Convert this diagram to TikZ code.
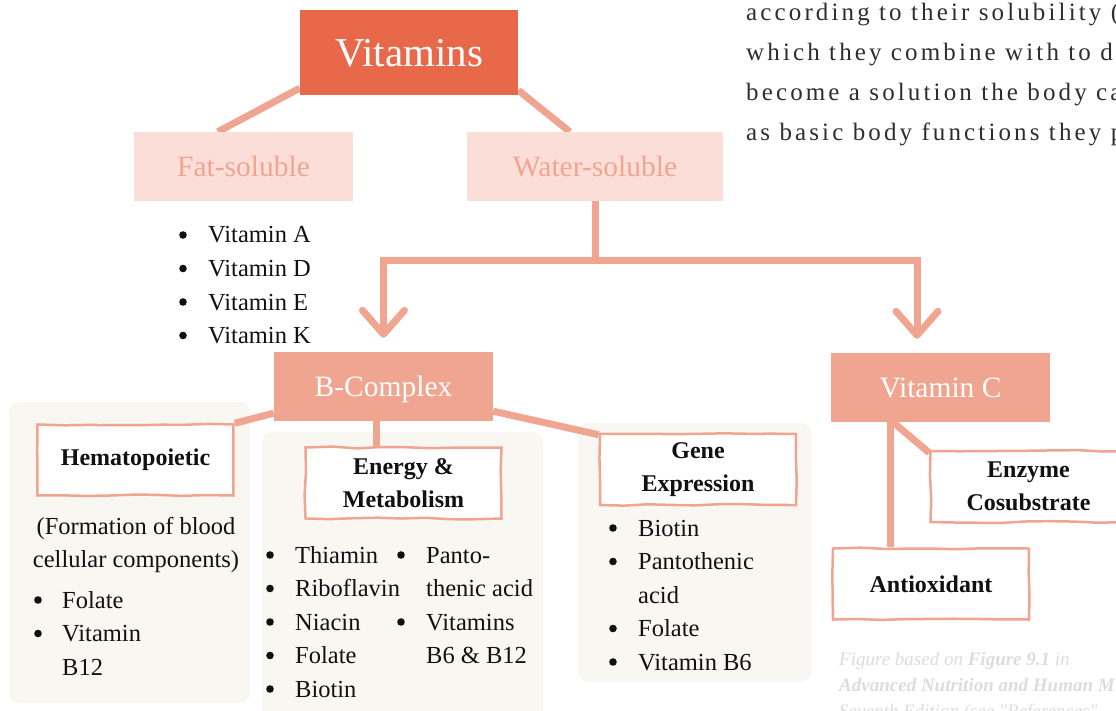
\documentclass[tikz,border=0pt]{standalone}
\usepackage{fontspec}
\setmainfont{Liberation Serif}
\usetikzlibrary{arrows.meta,decorations.pathmorphing,backgrounds}

\begin{document}
\begin{tikzpicture}[x=1pt, y=-1pt]
    % Define colours
    \definecolor{mainColour}{HTML}{E8684A}
    \definecolor{lineColour}{HTML}{F0A591}
    \definecolor{paleColour}{HTML}{FBDED8}
    \definecolor{panelColour}{HTML}{F9F7F2}
    \definecolor{textColour}{HTML}{111111}
    \definecolor{paraColour}{HTML}{2E2E2E}
    \definecolor{noteColour}{HTML}{DCDCDC}

    % Define styles
    \tikzset{
        link/.style={draw=lineColour, line width=7pt},
        headbox/.style={fill=mainColour, text=white, minimum width=218pt, minimum height=85pt, inner sep=0pt, text depth=0pt, font=\fontsize{41}{48}\selectfont},
        groupbox/.style={fill=paleColour, text=lineColour, minimum height=69pt, inner sep=0pt, text depth=0pt, font=\fontsize{29.5}{35}\selectfont},
        classbox/.style={fill=lineColour, text=white, minimum width=219pt, minimum height=69pt, inner sep=0pt, text depth=0pt, font=\fontsize{29.5}{35}\selectfont},
        sketchbox/.style={draw=lineColour, fill=white, line width=2.5pt, minimum width=196pt, minimum height=71pt, inner sep=0pt, align=center, text=textColour, font=\bfseries\fontsize{24}{33}\selectfont, decorate, decoration={random steps, segment length=24pt, amplitude=0.9pt}},
        panel/.style={fill=panelColour, rounded corners=10pt},
        item/.style={anchor=base west, inner sep=0pt, text=textColour, font=\fontsize{24.5}{33}\selectfont},
        para/.style={anchor=base west, inner sep=0pt, text=paraColour, font=\fontsize{25}{40}\selectfont\addfontfeatures{LetterSpace=12.5}},
        note/.style={anchor=base west, inner sep=0pt, text=noteColour, font=\itshape\fontsize{19}{26}\selectfont\addfontfeatures{Ligatures=TeXOff}},
        tip/.style={-{Straight Barb[length=24pt, width=42pt, round]}, shorten >=14pt}
    }
    \pgfmathsetseed{7}

    % Fix picture size
    \useasboundingbox (0,0) rectangle (1116,711);

    % Draw background panels
    \begin{scope}[on background layer]
        \fill[panel] (9,402) rectangle (250,703);
        \fill[panel] (262,432) rectangle (543,730);
        \fill[panel] (578,423) rectangle (811,682);
    \end{scope}

    % Draw main boxes
    \node[headbox] (vit) at (409,52.5) {Vitamins};
    \node[groupbox, minimum width=219pt] (fat) at (243.5,166.5) {Fat-soluble};
    \node[groupbox, minimum width=256pt] (water) at (595,166.5) {Water-soluble};
    \node[classbox] (bcomp) at (383.5,386.5) {B-Complex};
    \node[classbox] (vitc) at (940.5,387.5) {Vitamin C};

    % Draw role boxes
    \node[sketchbox] (hemat) at (135.5,460) {Hematopoietic};
    \node[sketchbox] (energy) at (403.5,483) {Energy \&\\Metabolism};
    \node[sketchbox] (gene) at (698,469.5) {Gene\\Expression};
    \node[sketchbox] (enzyme) at (1028.5,486.5) {Enzyme\\Cosubstrate};
    \node[sketchbox] (antiox) at (931,584) {Antioxidant};

    % Draw connectors
    \begin{scope}[on background layer]
        \draw[link] ([yshift=7pt]vit.south west) -- ([xshift=84pt]fat.north west);
        \draw[link] ([yshift=5pt]vit.south east) -- ([xshift=103pt]water.north west);
        \draw[link, tip] (water.south) -- ++(0,59) -| (bcomp.north);
        \draw[link, tip] (water.south) -- ++(0,59) -| ([xshift=-23.5pt]vitc.north);
        \draw[link] ([yshift=8pt]bcomp.south west) -- (hemat.north east);
        \draw[link] ([xshift=-7.5pt]bcomp.south) -- ([xshift=-7.5pt]bcomp.south |- energy.north);
        \draw[link] ([yshift=10pt]bcomp.south east) -- ([yshift=-2pt]gene.north west);
        \draw[link] ([xshift=-47.5pt]vitc.south) -- ([yshift=-3pt]enzyme.north west);
        \draw[link] ([xshift=-50.5pt]vitc.south) -- ([xshift=-50.5pt]vitc.south |- antiox.north);
    \end{scope}

    % Fat-soluble list
    \foreach \txt [count=\i from 0] in {Vitamin A, Vitamin D, Vitamin E, Vitamin K} {
        \fill[textColour] (183,{235+33.5*\i}) circle (3.8pt);
        \node[item] (fat\i) at (208,{243+33.5*\i}) {\txt};
    }

    % Hematopoietic list
    \node[item, anchor=base] (hematA) at (136,534) {(Formation of blood};
    \node[item, anchor=base] (hematB) at (136,567) {cellular components)};
    \foreach \txt/\hasdot [count=\i from 0] in {Folate/1, Vitamin/1, B12/0} {
        \ifnum\hasdot=1 \fill[textColour] (38,{600+33.5*\i}) circle (3.8pt); \fi
        \node[item] (hemat\i) at (62,{608+33.5*\i}) {\txt};
    }

    % Energy list
    \foreach \txt [count=\i from 0] in {Thiamin, Riboflavin, Niacin, Folate, Biotin} {
        \fill[textColour] (270,{555+33.5*\i}) circle (3.8pt);
        \node[item] (energyA\i) at (295,{563+33.5*\i}) {\txt};
    }
    \foreach \txt/\hasdot [count=\i from 0] in {Panto-/1, thenic acid/0, Vitamins/1, B6 \& B12/0} {
        \ifnum\hasdot=1 \fill[textColour] (401,{555+33.5*\i}) circle (3.8pt); \fi
        \node[item] (energyB\i) at (426,{563+33.5*\i}) {\txt};
    }

    % Gene list
    \foreach \txt/\hasdot [count=\i from 0] in {Biotin/1, Pantothenic/1, acid/0, Folate/1, Vitamin B6/1} {
        \ifnum\hasdot=1 \fill[textColour] (613,{528+33.5*\i}) circle (3.8pt); \fi
        \node[item] (gene\i) at (638,{536+33.5*\i}) {\txt};
    }

    % Body text
    \node[para] (para0) at (746,21) {according to their solubility (};
    \node[para] (para1) at (746,61) {which they combine with to d};
    \node[para] (para2) at (746,101) {become a solution the body ca};
    \node[para] (para3) at (746,141) {as basic body functions they p};

    % Source note
    \node[note] (note0) at (839,665) {Figure based on \textbf{Figure 9.1} in};
    \node[note] (note1) at (839,691) {\textbf{Advanced Nutrition and Human M}};
    \node[note] (note2) at (839,717) {Seventh Edition (see "References"};

\end{tikzpicture}
\end{document}
